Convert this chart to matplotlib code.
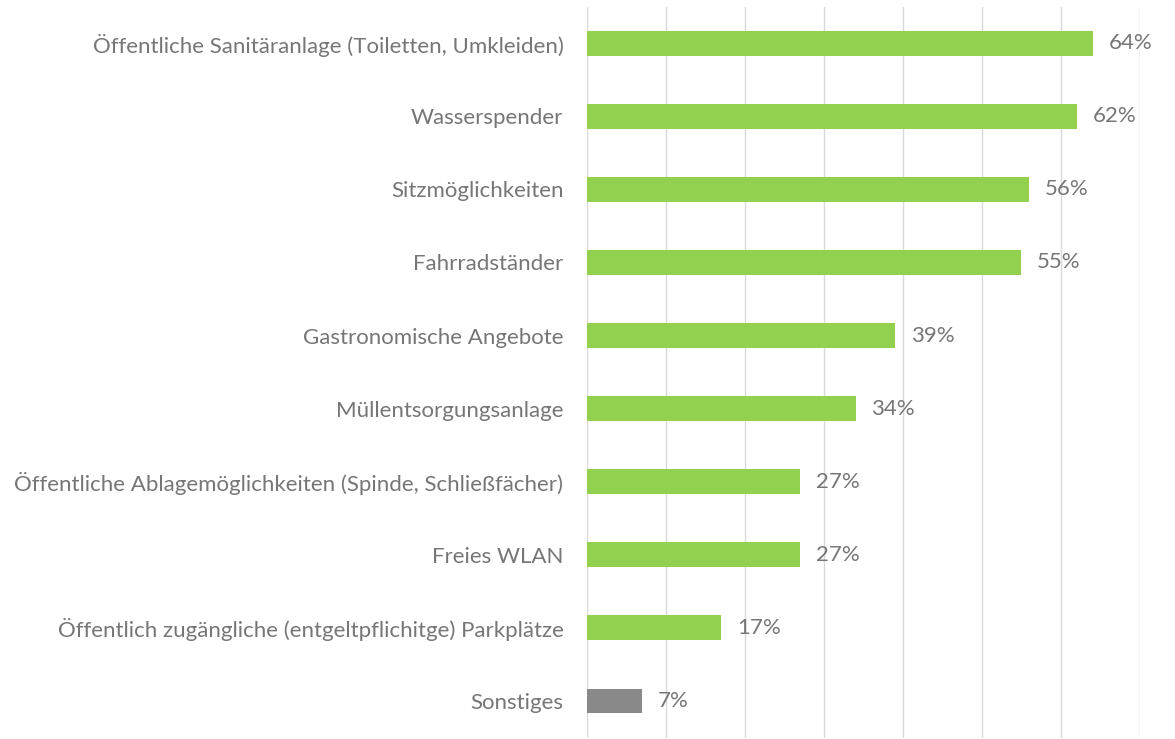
import matplotlib.pyplot as plt

categories = [
    "Öffentliche Sanitäranlage (Toiletten, Umkleiden)",
    "Wasserspender",
    "Sitzmöglichkeiten",
    "Fahrradständer",
    "Gastronomische Angebote",
    "Müllentsorgungsanlage",
    "Öffentliche Ablagemöglichkeiten (Spinde, Schließfächer)",
    "Freies WLAN",
    "Öffentlich zugängliche (entgeltpflichitge) Parkplätze",
    "Sonstiges",
]
values = [64, 62, 56, 55, 39, 34, 27, 27, 17, 7]
colors = ["#92D050"] * 9 + ["#898989"]

plt.rcParams['font.family'] = ['Lato', 'DejaVu Sans']
text_color = "#767676"

fig = plt.figure(figsize=(11.75, 7.39), dpi=100)
ax = fig.add_axes([0.4996, 0.002, 0.4706, 0.989])

y = list(range(len(categories)))
ax.barh(y, values, height=0.34, color=colors, zorder=3)
ax.set_ylim(len(categories) - 0.5, -0.5)
ax.set_xlim(0, 70)
ax.set_xticks(range(0, 71, 10))
ax.set_xticklabels([])
ax.tick_params(axis='x', length=0)
ax.tick_params(axis='y', length=0, pad=17)
ax.set_yticks(y)
ax.set_yticklabels(categories, fontsize=16, color=text_color)
ax.grid(axis='x', color="#D9D9D9", linewidth=1, zorder=0)
for s in ax.spines.values():
    s.set_visible(False)

for yi, v in zip(y, values):
    ax.text(v + 2.0, yi, f"{v}%", va='center', ha='left', fontsize=16, color=text_color)

fig.savefig("out.png", dpi=100)
